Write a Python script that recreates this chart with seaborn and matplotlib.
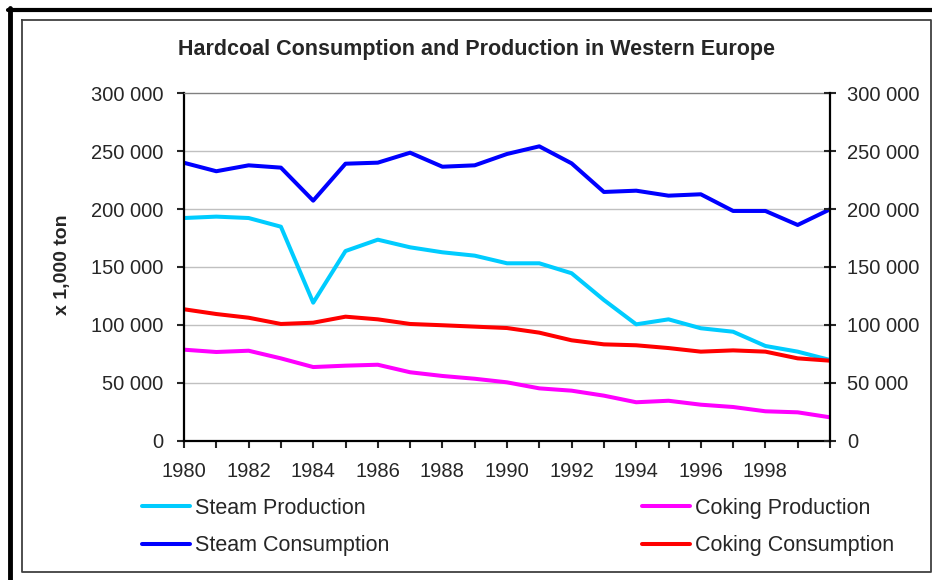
import numpy as np
import pandas as pd
import seaborn as sns
import matplotlib.pyplot as plt
from matplotlib.lines import Line2D
from matplotlib.ticker import FuncFormatter

years = list(range(1980, 2001))
steam_production = [192300, 193500, 192300, 184800, 119200, 163800, 173600, 167000, 162700, 159800, 153200,
                    153200, 144600, 121500, 100500, 104800, 97100, 94100, 81800, 76900, 69700]
steam_consumption = [240000, 232700, 237800, 235800, 207300, 239200, 240100, 248700, 236600, 237800, 247600,
                     254200, 239500, 214800, 215900, 211600, 212800, 198400, 198400, 186300, 199800]
coking_production = [78600, 76600, 77700, 71100, 63600, 64800, 65600, 59100, 55900, 53500, 50400,
                     45200, 43200, 38900, 33200, 34500, 31100, 29100, 25400, 24500, 20200]
coking_consumption = [113500, 109400, 106200, 100800, 101900, 107100, 104800, 100800, 99700, 98500, 97300,
                      93300, 86700, 83200, 82400, 80000, 76900, 78000, 76900, 71100, 69100]

series_names = ['Steam Production', 'Steam Consumption', 'Coking Production', 'Coking Consumption']
series_colors = ['#00CCFF', '#0000FF', '#FF00FF', '#FF0000']
year_labels = [str(y) if (y % 2 == 0 and y < 2000) else '' for y in years]
y_ticks = [0, 50000, 100000, 150000, 200000, 250000, 300000]

df = pd.DataFrame({
    'year': years * 4,
    'value': steam_production + steam_consumption + coking_production + coking_consumption,
    'series': [n for n in series_names for _ in years],
})

sns.set_style('white')
plt.rcParams['font.family'] = ['Liberation Sans', 'DejaVu Sans']

W, H = 932, 580
fig = plt.figure(figsize=(W / 100, H / 100), dpi=100)
ax = fig.add_axes([184 / W, 1 - 440.7 / H, (830 - 184) / W, (440.7 - 93.3) / H])

sns.lineplot(data=df, x='year', y='value', hue='series', hue_order=series_names,
             palette=series_colors, linewidth=2.9, ax=ax)
handles, labels = ax.get_legend_handles_labels()
ax.get_legend().remove()

ax.set_xlim(1980, 2000)
ax.set_ylim(0, 300000)
ax.set_xticks(years)
ax.set_xticklabels(year_labels)
ax.set_yticks(y_ticks)
fmt = FuncFormatter(lambda v, p: f'{v:,.0f}'.replace(',', ' '))
ax.yaxis.set_major_formatter(fmt)
ax.set_xlabel('')
ax.set_ylabel('')
for y in y_ticks[1:-1]:
    ax.axhline(y, color='#C0C0C0', lw=1, zorder=0)

ax.tick_params(axis='y', direction='out', length=5, width=1.5, pad=10, labelsize=14.5, left=True)
ax.tick_params(axis='x', direction='out', length=5, width=1.5, pad=10, labelsize=14.5, bottom=True)
for s in ['left', 'bottom']:
    ax.spines[s].set_color('black')
    ax.spines[s].set_linewidth(1.6)
ax.spines['top'].set_color('#808080')
ax.spines['top'].set_linewidth(1)
ax.spines['right'].set_visible(False)

ax2 = ax.twinx()
ax2.set_ylim(0, 300000)
ax2.set_yticks(y_ticks)
ax2.yaxis.set_major_formatter(fmt)
ax2.tick_params(axis='y', direction='inout', length=9, width=1.5, pad=8, labelsize=14.5, right=True)
ax2.spines['right'].set_color('black')
ax2.spines['right'].set_linewidth(1.6)
for s in ['left', 'top', 'bottom']:
    ax2.spines[s].set_visible(False)

fig.text(62 / W, 1 - 265 / H, 'x 1,000 ton', rotation=90, ha='center', va='center',
         fontsize=14, fontweight='bold')
fig.text(476 / W, 1 - 50 / H, 'Hardcoal Consumption and Production in Western Europe',
         ha='center', va='center', fontsize=15.5, fontweight='bold')

leg_kw = dict(loc='upper left', frameon=False, fontsize=15.5, handlelength=2.25,
              handletextpad=0.23, labelspacing=0.75, borderaxespad=0, borderpad=0)
fig.legend([handles[0], handles[1]], [labels[0], labels[1]],
           bbox_to_anchor=(142 / W, 1 - 498 / H), **leg_kw)
fig.legend([handles[2], handles[3]], [labels[2], labels[3]],
           bbox_to_anchor=(642 / W, 1 - 498 / H), **leg_kw)

# chart frame
def fline(xs, ys, **kw):
    fig.add_artist(Line2D([x / W for x in xs], [1 - y / H for y in ys],
                          transform=fig.transFigure, **kw))

fline([8, W], [10, 10], color='black', lw=3)
fline([10, 10], [8, H], color='black', lw=3.5)
fline([21.5, 931, 931, 21.5, 21.5], [20, 20, 572, 572, 20], color='#404040', lw=1.3)

fig.savefig('out.png', dpi=100)
